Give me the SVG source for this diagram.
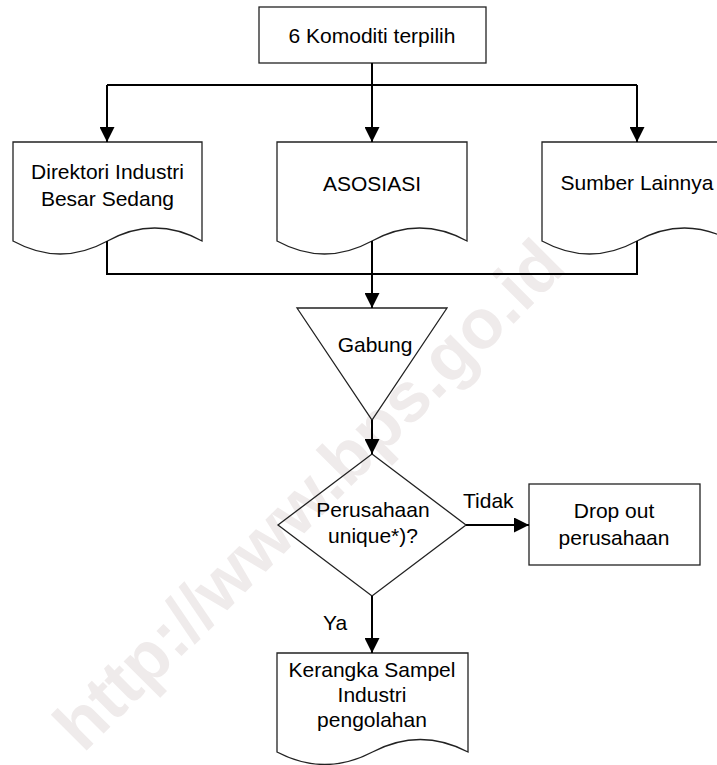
<svg xmlns="http://www.w3.org/2000/svg" width="717" height="765" viewBox="0 0 717 765">
<style>
.shape{fill:none;stroke:#222;stroke-width:1.3}
.conn{fill:none;stroke:#000;stroke-width:2}
.lbl{font-family:"Liberation Sans",Arial,sans-serif;font-size:21px;fill:#000;text-anchor:middle}
.wm{font-family:"Liberation Sans",Arial,sans-serif;font-size:70px;font-weight:bold;fill:#efebeb;text-anchor:middle}
</style>
<defs>
<marker id="arr" markerUnits="userSpaceOnUse" markerWidth="15" markerHeight="15" viewBox="0 0 15 15" refX="15" refY="7.5" orient="auto">
<path d="M0,0 L15,7.5 L0,15 z" fill="#000"/>
</marker>
</defs>
<rect width="717" height="765" fill="#fff"/>
<g id="watermark" transform="translate(308,494) rotate(-45)">
<text class="wm" x="0" y="25">http://www.bps.go.id</text>
</g>
<g id="n-komoditi">
<rect class="shape" x="259" y="7" width="227" height="56"/>
<text class="lbl" x="372" y="43">6 Komoditi terpilih</text>
</g>
<g id="n-direktori">
<path class="shape" d="M13,142 H202 V241 Q154.75,215 107.5,241 T13,241 Z"/>
<text class="lbl" x="107.5" y="179">Direktori Industri</text>
<text class="lbl" x="107.5" y="206">Besar Sedang</text>
</g>
<g id="n-asosiasi">
<path class="shape" d="M277,142 H467 V241 Q419.5,215 372,241 T277,241 Z"/>
<text class="lbl" x="372" y="191">ASOSIASI</text>
</g>
<g id="n-sumber">
<path class="shape" d="M542,142 H732 V241 Q684.5,215 637,241 T542,241 Z"/>
<text class="lbl" x="637" y="190">Sumber Lainnya</text>
</g>
<g id="n-gabung">
<path class="shape" d="M297,308 H447 L372,420 Z"/>
<text class="lbl" x="375" y="352">Gabung</text>
</g>
<g id="n-unique">
<path class="shape" d="M372,454 L466,525 L372,596 L278,525 Z"/>
<text class="lbl" x="373" y="517">Perusahaan</text>
<text class="lbl" x="373" y="543">unique*)?</text>
</g>
<g id="n-dropout">
<rect class="shape" x="529" y="484" width="171" height="81"/>
<text class="lbl" x="614" y="518">Drop out</text>
<text class="lbl" x="614" y="545">perusahaan</text>
</g>
<g id="n-kerangka">
<path class="shape" d="M277,653 H468 V752 Q420.25,727 372.5,752 T277,752 Z"/>
<text class="lbl" x="372" y="677">Kerangka Sampel</text>
<text class="lbl" x="372" y="702">Industri</text>
<text class="lbl" x="372" y="727">pengolahan</text>
</g>
<g id="connectors">
<path class="conn" d="M372,63 V142" marker-end="url(#arr)"/>
<path class="conn" d="M107,85 H637"/>
<path class="conn" d="M107,85 V142" marker-end="url(#arr)"/>
<path class="conn" d="M637,85 V142" marker-end="url(#arr)"/>
<path class="conn" d="M107,241 V274 H637 V241"/>
<path class="conn" d="M372,241 V308" marker-end="url(#arr)"/>
<path class="conn" d="M372,420 V454" marker-end="url(#arr)"/>
<path class="conn" d="M466,525 H529" marker-end="url(#arr)"/>
<path class="conn" d="M372,596 V653" marker-end="url(#arr)"/>
<text class="lbl" x="463" y="508" style="text-anchor:start">Tidak</text>
<text class="lbl" x="323" y="630" style="text-anchor:start">Ya</text>
</g>
</svg>
